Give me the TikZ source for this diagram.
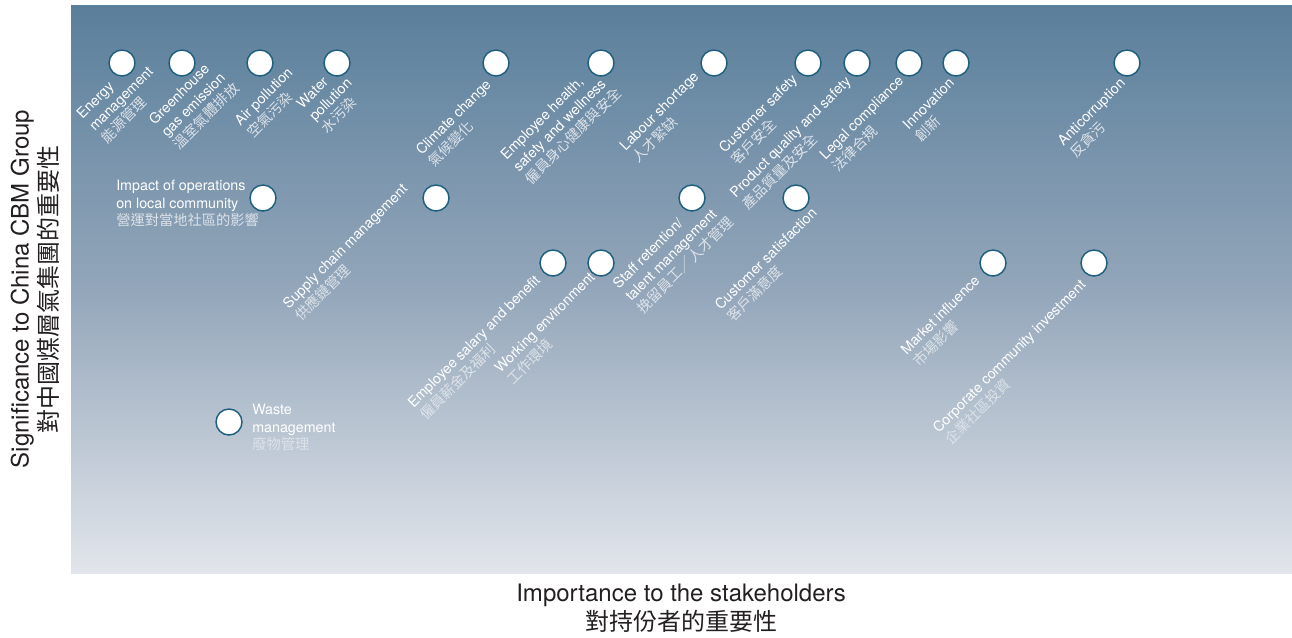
\documentclass[tikz,border=0pt]{standalone}
\usepackage{fontspec}
\setmainfont{TeX Gyre Heros}
\newfontfamily\cjk{Noto Sans CJK TC}
\usepackage{tikz}
\usetikzlibrary{shapes}
\definecolor{steeltop}{HTML}{5A7F9B}
\definecolor{steelmid}{HTML}{93A6BA}
\definecolor{steelbot}{HTML}{E2E5EB}
\definecolor{dotedge}{HTML}{1E5F7D}
\definecolor{zhgrey}{HTML}{DCE2E9}
\definecolor{axisink}{HTML}{231F20}
\newcommand{\zhtext}[1]{{\cjk\color{zhgrey}#1}}

\begin{document}
\begin{tikzpicture}[x=0.75pt, y=-0.75pt,
    dot/.style={circle, draw=dotedge, fill=white, line width=1.1pt,
        minimum size=19.5pt, inner sep=0pt},
    lbl/.style={rotate=45, anchor=north west, align=left, inner sep=0pt,
        text=white, font=\fontsize{10.7}{13.1}\selectfont},
    flatlbl/.style={anchor=north west, align=left, inner sep=0pt,
        text=white, font=\fontsize{10.7}{13.1}\selectfont},
    axislbl/.style={align=center, text=axisink,
        font=\fontsize{18}{21.5}\selectfont}]

        \useasboundingbox (0,0) rectangle (1292,637);

        % Background
        \shade[top color=steeltop, bottom color=steelbot, middle color=steelmid]
        (71,5) rectangle (1292,573);

        % Top row
        \node[dot] (energy) at (122,63) {};
        \node[dot] (ghg) at (182,63) {};
        \node[dot] (air) at (260,63) {};
        \node[dot] (water) at (337,63) {};
        \node[dot] (climate) at (496,63) {};
        \node[dot] (health) at (601,63) {};
        \node[dot] (labour) at (714,63) {};
        \node[dot] (custsafe) at (808,63) {};
        \node[dot] (product) at (857,63) {};
        \node[dot] (legal) at (909,63) {};
        \node[dot] (innov) at (956,63) {};
        \node[dot] (anticorr) at (1127,63) {};

        \node[lbl] (energylbl) at (75,112)
        {Energy\\management\\\zhtext{能源管理}};
        \node[lbl] (ghglbl) at (147,118)
        {Greenhouse\\gas emission\\\zhtext{溫室氣體排放}};
        \node[lbl] (airlbl) at (233,119)
        {Air pollution\\\zhtext{空氣污染}};
        \node[lbl] (waterlbl) at (295,102)
        {Water\\pollution\\\zhtext{水污染}};
        \node[lbl] (climatelbl) at (414,148)
        {Climate change\\\zhtext{氣候變化}};
        \node[lbl] (healthlbl) at (499,153)
        {Employee health,\\safety and wellness\\\zhtext{僱員身心健康與安全}};
        \node[lbl] (labourlbl) at (618,144)
        {Labour shortage\\\zhtext{人才緊缺}};
        \node[lbl] (custsafelbl) at (717,146)
        {Customer safety\\\zhtext{客戶安全}};
        \node[lbl] (productlbl) at (728,191)
        {Product quality and safety\\\zhtext{產品質量及安全}};
        \node[lbl] (legallbl) at (818,153)
        {Legal compliance\\\zhtext{法律合規}};
        \node[lbl] (innovlbl) at (901,123)
        {Innovation\\\zhtext{創新}};
        \node[lbl] (anticorrlbl) at (1056,139)
        {Anticorruption\\\zhtext{反貪污}};

        % Middle row
        \node[dot] (impact) at (263,198) {};
        \node[dot] (supply) at (436,198) {};
        \node[dot] (staff) at (692,198) {};
        \node[dot] (custsat) at (796,198) {};

        \node[flatlbl] (impactlbl) at (116,180)
        {Impact of operations\\on local community\\\zhtext{營運對當地社區的影響}};
        \node[lbl] (supplylbl) at (281,302)
        {Supply chain management\\\zhtext{供應鏈管理}};
        \node[lbl] (stafflbl) at (611,282)
        {Staff retention/\\talent management\\\zhtext{挽留員工／人才管理}};
        \node[lbl] (custsatlbl) at (713,303)
        {Customer satisfaction\\\zhtext{客戶滿意度}};

        % Lower row
        \node[dot] (salary) at (553,263) {};
        \node[dot] (workenv) at (601,263) {};
        \node[dot] (market) at (993,263) {};
        \node[dot] (commun) at (1094,263) {};
        \node[dot] (waste) at (229,422) {};

        \node[lbl] (salarylbl) at (406,401)
        {Employee salary and benefit\\\zhtext{僱員薪金及福利}};
        \node[lbl] (workenvlbl) at (493,366)
        {Working environment\\\zhtext{工作環境}};
        \node[lbl] (marketlbl) at (899,348)
        {Market influence\\\zhtext{市場影響}};
        \node[lbl] (communlbl) at (931,426)
        {Corporate community investment\\\zhtext{企業社區投資}};
        \node[flatlbl] (wastelbl) at (252,404)
        {Waste\\management\\\zhtext{廢物管理}};

        % Axes
        \node[axislbl, rotate=90] (ylbl) at (35,289)
        {Significance to China CBM Group\\{\cjk 對中國煤層氣集團的重要性}};
        \node[axislbl] (xlbl) at (681,608)
        {Importance to the stakeholders\\{\cjk 對持份者的重要性}};

\end{tikzpicture}
\end{document}
